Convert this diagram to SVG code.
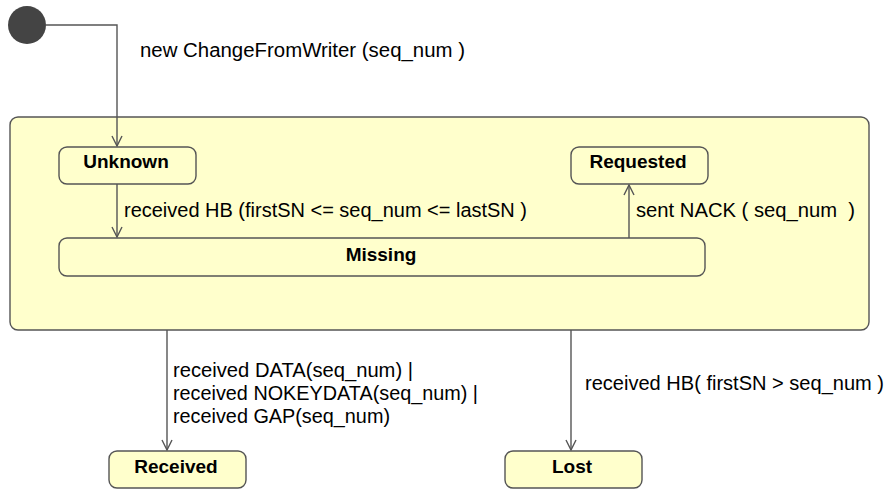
<svg xmlns="http://www.w3.org/2000/svg" width="887" height="489" viewBox="0 0 887 489">
<defs>
<style>
.st{fill:#ffffcc;stroke:#555;stroke-width:1.4}
.nm{font-family:"Liberation Sans",Arial,sans-serif;font-size:19px;font-weight:bold;fill:#000;text-anchor:middle}
.lb{font-family:"Liberation Sans",Arial,sans-serif;font-size:20px;fill:#000;white-space:pre}
.cn{fill:none;stroke:#555;stroke-width:1.4}
</style>
<marker id="arr" viewBox="0 0 12 12" refX="11" refY="6" markerWidth="12" markerHeight="12" markerUnits="userSpaceOnUse" orient="auto">
<path d="M1,1 L11,6 L1,11" fill="none" stroke="#555" stroke-width="1.4"/>
</marker>
</defs>
<rect width="887" height="489" fill="#fff"/>
<g id="container"><rect class="st" x="10" y="117" width="859" height="213" rx="8"/></g>
<g id="initial"><circle cx="27" cy="25" r="19" fill="#444"/></g>
<g id="unknown"><rect class="st" x="59" y="147" width="137" height="37" rx="8"/><text class="nm" x="126" y="168">Unknown</text></g>
<g id="requested"><rect class="st" x="571" y="147" width="137" height="37" rx="8"/><text class="nm" x="638" y="168">Requested</text></g>
<g id="missing"><rect class="st" x="59" y="238" width="646" height="38" rx="8"/><text class="nm" x="381" y="261">Missing</text></g>
<g id="received"><rect class="st" x="109" y="451" width="137" height="37" rx="8"/><text class="nm" x="176" y="473">Received</text></g>
<g id="lost"><rect class="st" x="505" y="451" width="137" height="37" rx="8"/><text class="nm" x="572" y="473">Lost</text></g>
<g id="connectors">
<path class="cn" d="M46,25 H117 V146" marker-end="url(#arr)"/>
<path class="cn" d="M117,184 V237" marker-end="url(#arr)"/>
<path class="cn" d="M629,238 V185" marker-end="url(#arr)"/>
<path class="cn" d="M167,330 V450" marker-end="url(#arr)"/>
<path class="cn" d="M571,330 V450" marker-end="url(#arr)"/>
</g>
<g id="labels">
<text class="lb" x="140" y="57" textLength="325" lengthAdjust="spacingAndGlyphs">new ChangeFromWriter (seq_num )</text>
<text class="lb" x="124" y="217" textLength="403" lengthAdjust="spacingAndGlyphs">received HB (firstSN &lt;= seq_num &lt;= lastSN )</text>
<text class="lb" x="636" y="217" textLength="219" lengthAdjust="spacingAndGlyphs">sent NACK ( seq_num  )</text>
<text class="lb" x="173" y="377" textLength="240" lengthAdjust="spacingAndGlyphs">received DATA(seq_num) |</text>
<text class="lb" x="173" y="400" textLength="305" lengthAdjust="spacingAndGlyphs">received NOKEYDATA(seq_num) |</text>
<text class="lb" x="173" y="423" textLength="217" lengthAdjust="spacingAndGlyphs">received GAP(seq_num)</text>
<text class="lb" x="585" y="390" textLength="299" lengthAdjust="spacingAndGlyphs">received HB( firstSN &gt; seq_num )</text>
</g>
</svg>
